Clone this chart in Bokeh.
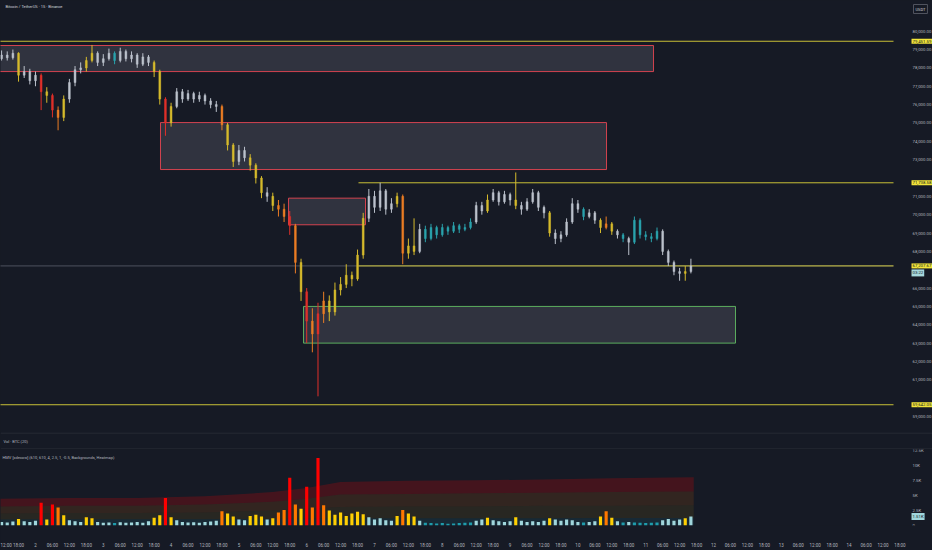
import numpy as np
import pandas as pd
from bokeh.plotting import figure
from bokeh.layouts import column
from bokeh.models import (Range1d, FixedTicker, CustomJSTickFormatter, Label,
                          ColumnDataSource, GlobalInlineStyleSheet)
from bokeh.core.properties import value
from bokeh.embed import file_html
from bokeh.resources import INLINE

# ---------------- data ----------------
title_text = "Bitcoin / TetherUS · 15 · Binance"
candle_start = "2026-02-01 12:00"   # 2h candles

opens = [78500, 78700, 78550, 78800, 77600, 77800, 77300, 77600, 76700, 76500,
         75700, 75300, 76300, 77200, 77900, 78000, 78400, 78800, 78300, 78500,
         78800, 78400, 78900, 78500, 78700, 78200, 78600, 78300, 77800, 76300,
         75000, 75900, 76700, 76300, 76600, 76300, 76500, 76200, 76000, 75900,
         74900, 73800, 72900, 73500, 73100, 72700, 72000, 71200, 71000, 70500,
         70300, 69900, 69400, 67400, 65800, 64200, 63500, 64600, 65300, 64700,
         65900, 66200, 66700, 66500, 67800, 69800, 71000, 70400, 71300, 70300,
         70600, 71000, 67900, 68300, 68000, 69200, 68700, 69300, 68900, 69300,
         69100, 69400, 69200, 69300, 69600, 70500, 70200, 70800, 71200, 70700,
         71100, 70800, 70500, 70300, 70700, 71200, 70400, 70100, 69000, 68700,
         68900, 69600, 70600, 70300, 69900, 70100, 69700, 69300, 69500, 69100,
         68900, 68700, 68500, 69700, 68900, 68800, 68700, 69100, 68000, 67400,
         66900, 66800, 66900]
highs = [78950, 78900, 79000, 78850, 78100, 77950, 77800, 77700, 76950, 76600,
         75900, 76500, 77400, 78100, 78300, 78600, 79250, 78900, 78750, 79050,
         78900, 79100, 79000, 78900, 78800, 78800, 78700, 78400, 77900, 76400,
         76100, 76900, 76850, 76800, 76700, 76700, 76600, 76350, 76200, 76000,
         75000, 73900, 73800, 73700, 73300, 72800, 72100, 71500, 71200, 70800,
         70600, 70200, 69500, 67600, 66000, 64900, 65200, 65800, 65600, 66300,
         66600, 67300, 66900, 68100, 70100, 71400, 71300, 71740, 71400, 70900,
         71200, 71100, 68700, 69800, 69500, 69400, 69500, 69400, 69500, 69400,
         69600, 69500, 69500, 69800, 70700, 70700, 71100, 71400, 71300, 71300,
         71200, 72300, 70700, 70900, 71400, 71300, 70500, 70200, 69200, 69100,
         69800, 70900, 70800, 70400, 70300, 70200, 69800, 69900, 69600, 69200,
         69000, 68800, 69900, 69800, 69100, 69000, 69300, 69200, 68100, 67500,
         67100, 67200, 67600]
lows = [78400, 78400, 78450, 77250, 77450, 77100, 77000, 75700, 76100, 75300,
        74600, 75100, 76100, 77000, 77700, 77800, 78300, 78100, 78100, 78400,
        78200, 78300, 78350, 78300, 78000, 78100, 78100, 77500, 76000, 74300,
        74800, 75800, 76100, 76200, 76100, 76150, 76000, 75800, 75600, 74600,
        73500, 72600, 72700, 72900, 72400, 71700, 70900, 70700, 70200, 69900,
        69600, 68900, 66800, 65300, 63000, 62500, 60100, 64100, 64200, 64500,
        65600, 66000, 66100, 66400, 67600, 69600, 70100, 70200, 70000, 70100,
        70400, 67300, 67600, 67800, 67900, 68500, 68600, 68700, 68800, 68900,
        69000, 69000, 69100, 69200, 69500, 70000, 70100, 70700, 70500, 70600,
        70500, 70300, 70000, 70200, 70600, 70200, 69800, 68800, 68400, 68500,
        68800, 69500, 70100, 69700, 69800, 69500, 69000, 69200, 68900, 68700,
        68500, 67800, 68400, 68700, 68600, 68500, 68600, 67800, 67200, 66700,
        66400, 66400, 66800]
closes = [78700, 78550, 78800, 77600, 77800, 77300, 77600, 76700, 76500, 75700,
          75300, 76300, 77200, 77900, 78000, 78400, 78800, 78300, 78500, 78800,
          78400, 78900, 78500, 78700, 78200, 78600, 78300, 77800, 76300, 75000,
          75900, 76700, 76300, 76600, 76300, 76500, 76200, 76000, 75900, 74900,
          73800, 72900, 73500, 73100, 72700, 72000, 71200, 71000, 70500, 70300,
          69900, 69400, 67400, 65800, 64200, 63500, 64600, 65300, 64700, 65900,
          66200, 66700, 66500, 67800, 69800, 71000, 70400, 71300, 70300, 70600,
          71000, 67900, 68300, 68000, 69200, 68700, 69300, 68900, 69300, 69100,
          69400, 69200, 69300, 69600, 70500, 70200, 70800, 71200, 70700, 71100,
          70800, 70500, 70300, 70700, 71200, 70400, 70100, 69000, 68700, 68900,
          69600, 70600, 70300, 69900, 70100, 69700, 69300, 69500, 69100, 68900,
          68700, 68500, 69700, 68900, 68800, 68700, 69100, 68000, 67400, 66900,
          66800, 66900, 67207.67]
volumes = [600, 500, 650, 1100, 700, 600, 800, 3800, 1000, 3500,
           3000, 1700, 900, 700, 600, 1400, 1200, 600, 450, 500,
           400, 550, 450, 500, 600, 450, 700, 1300, 1700, 4600,
           1400, 900, 600, 500, 550, 450, 600, 650, 800, 2400,
           2000, 1500, 1000, 900, 1600, 1800, 1500, 1000, 1200, 2200,
           2600, 8000, 3500, 2800, 6500, 3000, 11300, 3400, 2500, 1800,
           2200, 1600, 2000, 2300, 1900, 1400, 1000, 1200, 900, 800,
           1600, 2600, 2000, 1500, 800, 450, 400, 350, 400, 300,
           350, 400, 450, 500, 800, 1000, 1300, 900, 700, 600,
           700, 1400, 800, 600, 700, 600, 800, 1200, 1000, 800,
           1000, 900, 600, 500, 600, 700, 1500, 2400, 1300, 700,
           500, 600, 500, 450, 400, 450, 500, 900, 1100, 800,
           1000, 1200, 1510]
# heatmap level of each candle: L low, N normal, M medium, H high, X extra high
heat_levels = list("NNNMNNNXMX" "HMNNNMMNNN" "LNNNNNNMMX" "MNNNNNNNNH" "MMNNMMMNMH"
                   "HXHMXHXHMM" "MMMMMNNNNN" "MHMMNLLLLL" "LLLLNNMNNN" "NMNNNNNMNN"
                   "NNNLNNMHMN" "LNLLLLLNNN" "NMN")

# zones
zone_left = ["2026-02-01 11:00", "2026-02-03 20:15", "2026-02-05 17:34", "2026-02-05 22:52"]
zone_right = ["2026-02-11 02:46", "2026-02-10 10:08", "2026-02-06 20:49", "2026-02-12 07:47"]
zone_top = [79220, 75020, 70900, 65000]
zone_bottom = [77800, 72460, 69450, 63000]
zone_kind = ["supply", "supply", "supply", "demand"]

# horizontal levels
levels_full = [79451.59, 59642.05]
levels_partial = [71738.58, 67207.67]
partial_start = "2026-02-06 18:20"
last_price = 67207.67
countdown = "03:22"
last_volume_text = "1.51K"
price_label_texts = ["79,451.59", "71,738.58", "67,207.67", "59,642.05"]
price_label_values = [79451.59, 71738.58, 67207.67, 59642.05]

# HMV threshold bands (extra-high, high, medium, normal)
band_times = ["2026-02-01 11:00", "2026-02-02 12:00", "2026-02-03 12:00", "2026-02-04 12:00",
              "2026-02-05 12:00", "2026-02-06 00:00", "2026-02-06 12:00", "2026-02-07 12:00",
              "2026-02-08 12:00", "2026-02-09 12:00", "2026-02-10 12:00", "2026-02-11 17:00"]
thr_xh = [4500, 4600, 4600, 4900, 5600, 6300, 7300, 7500, 7600, 7700, 7900, 8100]
thr_h = [3200, 3300, 3300, 3500, 4000, 4500, 5200, 5300, 5400, 5500, 5600, 5700]
thr_m = [2000, 2100, 2100, 2200, 2500, 2800, 3100, 3200, 3200, 3300, 3300, 3400]
thr_n = [1000, 1050, 1050, 1050, 1100, 1150, 1200, 1200, 1200, 1200, 1250, 1250]

price_ticks = [59000, 61000, 62000, 63000, 64000, 65000, 66000, 68000, 69000, 70000,
               71000, 73000, 74000, 75000, 76000, 77000, 78000, 79000, 80000]
vol_ticks = [0, 2500, 5000, 7500, 10000, 12500]
vol_tick_labels = ["0", "2.5K", "5K", "7.5K", "10K", "12.5K"]
hmv_text = "HMV [xdecow] (610, 610, 4, 2.5, 1, -0.5, Backgrounds, Heatmap)"
vol_text = "Vol · BTC (20)"

# ---------------- styling / layout ----------------
BG = "#161a25"
TXT = "#b2b5be"
SEP = "#2a2e39"
YEL = "#e8dc3a"
FONT = "Roboto"
W = 932


def ms(t):
    return pd.Timestamp(t).value / 1e6


X_LEFT = ms("2026-02-01 11:37")      # left edge of the chart
X_AXIS = ms("2026-02-14 15:43")      # where the price scale begins
X_RIGHT = ms("2026-02-15 05:31")     # right edge of the window
Y_TOP, Y_BOT = 81673, 58129
V_TOP = 12740
AX_OFF = 19                          # px from chart edge to scale labels

candle_pal = {"X": "#e0302a", "H": "#eb7d24", "M": "#d6bb2c", "N": "#bcc2cc", "L": "#2aa3ad"}
bar_pal = {"X": "#ff0000", "H": "#ff7800", "M": "#ffcf03", "N": "#a0d6dc", "L": "#1f9cac"}

times = pd.date_range(candle_start, periods=len(closes), freq="2h")
o = np.array(opens, dtype=float)
c = np.array(closes, dtype=float)
src = ColumnDataSource(dict(
    t=times, o=o, c=c, h=highs, l=lows,
    top=np.maximum(o, c), bot=np.minimum(o, c),
    ccol=[candle_pal[k] for k in heat_levels],
    v=volumes, vcol=[bar_pal[k] for k in heat_levels],
))

x_range = Range1d(X_LEFT, X_RIGHT)


def style_common(f):
    f.background_fill_color = BG
    f.border_fill_color = BG
    f.outline_line_color = None
    f.grid.visible = False


def box_label(fig, x, y, text, fill, dy=0, size="4.3px"):
    fig.add_layout(Label(x=x, y=y, x_offset=AX_OFF - 1, y_offset=dy, text=text, text_font=FONT,
                         text_font_size=size, text_color="#131722", text_baseline="middle",
                         text_align="left", background_fill_color=fill, padding=1))


# ---- price pane ----
p = figure(width=W, height=432, x_range=x_range, y_range=Range1d(Y_BOT, Y_TOP),
           x_axis_type="datetime", x_axis_location=None, y_axis_location=None,
           output_backend="svg", toolbar_location=None, min_border=0)
style_common(p)

# zones
zsrc = ColumnDataSource(dict(
    left=pd.to_datetime(zone_left), right=pd.to_datetime(zone_right),
    top=zone_top, bottom=zone_bottom,
    lc=["#d2434f" if k == "supply" else "#5cae5f" for k in zone_kind]))
p.quad(left="left", right="right", top="top", bottom="bottom", source=zsrc,
       fill_color="#787b86", fill_alpha=0.27, line_color="lc", line_width=1)

# last price line (gray) and levels
p.segment(x0=[X_LEFT - 3.6e6], x1=[X_AXIS], y0=[last_price], y1=[last_price],
          line_color="#5d606b", line_width=1, line_alpha=0.8)
p.segment(x0=[X_LEFT - 3.6e6] * len(levels_full), x1=[X_AXIS] * len(levels_full),
          y0=levels_full, y1=levels_full, line_color=YEL, line_width=1, line_alpha=0.85)
p.segment(x0=[pd.Timestamp(partial_start)] * len(levels_partial),
          x1=[X_AXIS] * len(levels_partial),
          y0=levels_partial, y1=levels_partial, line_color=YEL, line_width=1, line_alpha=0.85)

# candles
p.segment(x0="t", y0="l", x1="t", y1="h", line_color="ccol", line_width=1, source=src)
p.vbar(x="t", width=2.3e6, top="top", bottom="bot", fill_color="ccol", line_color="ccol",
       line_width=0.5, source=src)

# price scale labels
psrc = ColumnDataSource(dict(x=[X_AXIS] * len(price_ticks), y=price_ticks,
                             txt=[f"{v:,.2f}" for v in price_ticks]))
p.text(x="x", y="y", text="txt", source=psrc, x_offset=AX_OFF, text_font=value(FONT),
       text_font_size="4.3px", text_color=TXT, text_baseline="middle", text_align="left")

# texts
p.add_layout(Label(x=X_LEFT, y=Y_TOP, x_offset=5, y_offset=-3, text=title_text,
                   text_font=FONT, text_font_size="4px", text_color="#d1d4dc",
                   text_baseline="top", text_align="left"))
p.add_layout(Label(x=X_AXIS, y=Y_TOP, x_offset=AX_OFF + 1, y_offset=-4, text="USDT",
                   text_font=FONT, text_font_size="4px", text_color="#d1d4dc",
                   text_baseline="top", text_align="left", border_line_color="#50535e",
                   border_line_width=1, background_fill_color=BG, padding=2))
for val, txt in zip(price_label_values, price_label_texts):
    box_label(p, X_AXIS, val, txt, "#f2e53a")
box_label(p, X_AXIS, last_price, countdown, "#a6d8dc", dy=-7)

# ---- collapsed volume pane ----
vf = figure(width=W, height=17, x_range=Range1d(0, W), y_range=Range1d(0, 17),
            x_axis_location=None, y_axis_location=None, output_backend="svg",
            toolbar_location=None, min_border=0)
style_common(vf)
vf.segment(x0=[0, 0], x1=[W, W], y0=[16.5, 0.5], y1=[16.5, 0.5], line_color=SEP, line_width=1)
vf.add_layout(Label(x=3, y=8.5, text=vol_text, text_font=FONT, text_font_size="4px",
                    text_color=TXT, text_baseline="middle", text_align="left"))

# ---- HMV pane ----
hf = figure(width=W, height=101, x_range=x_range, y_range=Range1d(0, V_TOP),
            x_axis_type="datetime", y_axis_location=None, output_backend="svg",
            toolbar_location=None, min_border_left=0, min_border_right=0,
            min_border_top=0, min_border_bottom=21)
style_common(hf)
bt = pd.to_datetime(band_times)
hf.varea(x=bt, y1=thr_h, y2=thr_xh, fill_color="#ff0000", fill_alpha=0.2)
hf.varea(x=bt, y1=thr_m, y2=thr_h, fill_color="#ff7800", fill_alpha=0.12)
hf.varea(x=bt, y1=thr_n, y2=thr_m, fill_color="#ffcf03", fill_alpha=0.08)
hf.varea(x=bt, y1=[0] * len(thr_n), y2=thr_n, fill_color="#1f9cac", fill_alpha=0.12)
hf.vbar(x="t", width=4.0e6, top="v", bottom=0, fill_color="vcol", line_color=None, source=src)

vsrc = ColumnDataSource(dict(x=[X_AXIS] * len(vol_ticks), y=vol_ticks, txt=vol_tick_labels))
hf.text(x="x", y="y", text="txt", source=vsrc, x_offset=AX_OFF, text_font=value(FONT),
        text_font_size="4.3px", text_color=TXT, text_baseline="middle", text_align="left")

hx = hf.xaxis[0]
tick_times = pd.date_range("2026-02-01 12:00", "2026-02-14 18:00", freq="6h")
hx.ticker = FixedTicker(ticks=[t.value / 1e6 for t in tick_times])
hx.formatter = CustomJSTickFormatter(code="""
const d = new Date(tick);
const h = d.getUTCHours();
if (h == 0) return String(d.getUTCDate());
return (h < 10 ? '0' : '') + h + ':00';
""")
hx.major_label_text_font_size = "4.5px"
hx.major_label_text_font = FONT
hx.major_label_text_color = TXT
hx.major_label_standoff = 11
hx.axis_line_color = None
hx.major_tick_line_color = None
hx.minor_tick_line_color = None

hf.add_layout(Label(x=X_LEFT, y=V_TOP, x_offset=2, y_offset=-5, text=hmv_text, text_font=FONT,
                    text_font_size="4px", text_color=TXT, text_baseline="top", text_align="left"))
box_label(hf, X_AXIS, volumes[-1], last_volume_text, "#a0d6dc")

layout = column(p, vf, hf, spacing=0)
layout.stylesheets = [GlobalInlineStyleSheet(css="html, body { background: #161a25; }")]

open("out.html", "w").write(file_html(layout, INLINE))
